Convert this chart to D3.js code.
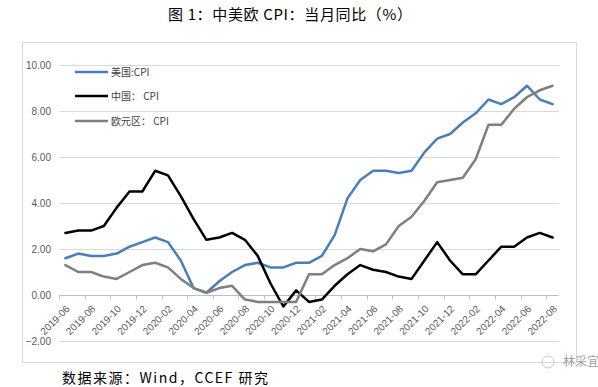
<!DOCTYPE html>
<html><head><meta charset="utf-8">
<script src="https://cdn.jsdelivr.net/npm/d3@7"></script>
<style>body{margin:0;background:#fff}svg{display:block}</style>
</head><body>
<svg id="c" width="598" height="387"></svg>
<script>
const months = ["2019-06","2019-07","2019-08","2019-09","2019-10","2019-11","2019-12",
"2020-01","2020-02","2020-03","2020-04","2020-05","2020-06","2020-07","2020-08","2020-09","2020-10","2020-11","2020-12",
"2021-01","2021-02","2021-03","2021-04","2021-05","2021-06","2021-07","2021-08","2021-09","2021-10","2021-11","2021-12",
"2022-01","2022-02","2022-03","2022-04","2022-05","2022-06","2022-07","2022-08"];
const usCPI = [1.6,1.8,1.7,1.7,1.8,2.1,2.3,2.5,2.3,1.5,0.3,0.1,0.6,1.0,1.3,1.4,1.2,1.2,1.4,1.4,1.7,2.6,4.2,5.0,5.4,5.4,5.3,5.4,6.2,6.8,7.0,7.5,7.9,8.5,8.3,8.6,9.1,8.5,8.3];
const cnCPI = [2.7,2.8,2.8,3.0,3.8,4.5,4.5,5.4,5.2,4.3,3.3,2.4,2.5,2.7,2.4,1.7,0.5,-0.5,0.2,-0.3,-0.2,0.4,0.9,1.3,1.1,1.0,0.8,0.7,1.5,2.3,1.5,0.9,0.9,1.5,2.1,2.1,2.5,2.7,2.5];
const euCPI = [1.3,1.0,1.0,0.8,0.7,1.0,1.3,1.4,1.2,0.7,0.3,0.1,0.3,0.4,-0.2,-0.3,-0.3,-0.3,-0.3,0.9,0.9,1.3,1.6,2.0,1.9,2.2,3.0,3.4,4.1,4.9,5.0,5.1,5.9,7.4,7.4,8.1,8.6,8.9,9.1];
const seriesNames = ["美国:CPI","中国： CPI","欧元区： CPI"];
const yTicks = [-2,0,2,4,6,8,10];
const title = "图 1：中美欧 CPI：当月同比（%）";
const source = "数据来源：Wind，CCEF 研究";
const watermark = "林采宜";

const series = [
  {name: seriesNames[0], values: usCPI, color: "#4a7ebb"},
  {name: seriesNames[1], values: cnCPI, color: "#000000"},
  {name: seriesNames[2], values: euCPI, color: "#7f7f7f"}
];

const svg = d3.select("#c");
const cjk = "'Noto Sans CJK SC','Noto Sans',sans-serif";
const lat = "'Liberation Sans',Arial,sans-serif";

// chart frame
svg.append("rect").attr("x",22.5).attr("y",42.5).attr("width",554).attr("height",320)
  .attr("fill","none").attr("stroke","#d9d9d9").attr("stroke-width",1);

const x = d3.scaleBand().domain(months).range([59, 559]).padding(0);
const y = d3.scaleLinear().domain([-2, 10]).range([341, 65]);

// gridlines
svg.append("g").selectAll("line").data(yTicks.filter(d=>d!==0)).join("line")
  .attr("x1",59).attr("x2",559)
  .attr("y1",d=>Math.round(y(d))+0.5).attr("y2",d=>Math.round(y(d))+0.5)
  .attr("stroke","#d9d9d9").attr("stroke-width",1);

// y labels
svg.append("g").selectAll("text").data(yTicks).join("text")
  .attr("x",51).attr("y",d=>y(d)).attr("dy","0.35em")
  .attr("text-anchor","end").attr("font-family",lat).attr("font-size",10)
  .attr("fill","#595959").text(d=>d3.format(".2f")(d));

// x axis at zero
const y0 = Math.round(y(0))+0.5;
svg.append("line").attr("x1",59).attr("x2",559).attr("y1",y0).attr("y2",y0)
  .attr("stroke","#bfbfbf").attr("stroke-width",1);
const tickIdx = d3.range(0, months.length+1, 2);
svg.append("g").selectAll("line").data(tickIdx).join("line")
  .attr("x1",i=>Math.round(i<months.length? x(months[i]) : x.range()[1])+0.5)
  .attr("x2",i=>Math.round(i<months.length? x(months[i]) : x.range()[1])+0.5)
  .attr("y1",y0).attr("y2",y0+4).attr("stroke","#bfbfbf");

// x labels
const labelMonths = months.filter((d,i)=>i%2===0);
svg.append("g").selectAll("text").data(labelMonths).join("text")
  .attr("transform",d=>`translate(${x(d)+x.bandwidth()/2+5},${y0+14}) rotate(-45)`)
  .attr("text-anchor","end").attr("font-family",lat).attr("font-size",10)
  .attr("fill","#595959").text(d=>d);

// lines
const line = d3.line().x((d,i)=>x(months[i])+x.bandwidth()/2).y(d=>y(d));
svg.append("g").selectAll("path").data(series).join("path")
  .attr("d",d=>line(d.values)).attr("fill","none")
  .attr("stroke",d=>d.color).attr("stroke-width",2.5)
  .attr("stroke-linejoin","round").attr("stroke-linecap","round");

// legend
const lg = svg.append("g").selectAll("g").data(series).join("g")
  .attr("transform",(d,i)=>`translate(75,${[72,96,121][i]})`);
lg.append("line").attr("x1",0).attr("x2",33).attr("stroke",d=>d.color).attr("stroke-width",2.5);
lg.append("text").attr("x",36).attr("dy","0.35em").attr("font-family",cjk)
  .attr("font-size",10).attr("fill","#404040").text(d=>d.name);

// title
svg.append("text").attr("x",168).attr("y",15).attr("dy","0.35em")
  .attr("textLength",244).attr("lengthAdjust","spacing")
  .attr("font-family",cjk).attr("font-size",15).attr("fill","#000").text(title);
// source
svg.append("text").attr("x",62).attr("y",378).attr("dy","0.35em")
  .attr("textLength",206).attr("lengthAdjust","spacing")
  .attr("font-family",cjk).attr("font-size",14).attr("fill","#000").text(source);
// watermark
svg.append("circle").attr("cx",548).attr("cy",362).attr("r",6).attr("fill","none")
  .attr("stroke","#c8c8c8").attr("stroke-width",1);
svg.append("text").attr("x",563).attr("y",362).attr("dy","0.35em")
  .attr("font-family",cjk).attr("font-size",12).attr("fill","#a0a0a0").text(watermark);
</script>
</body></html>
